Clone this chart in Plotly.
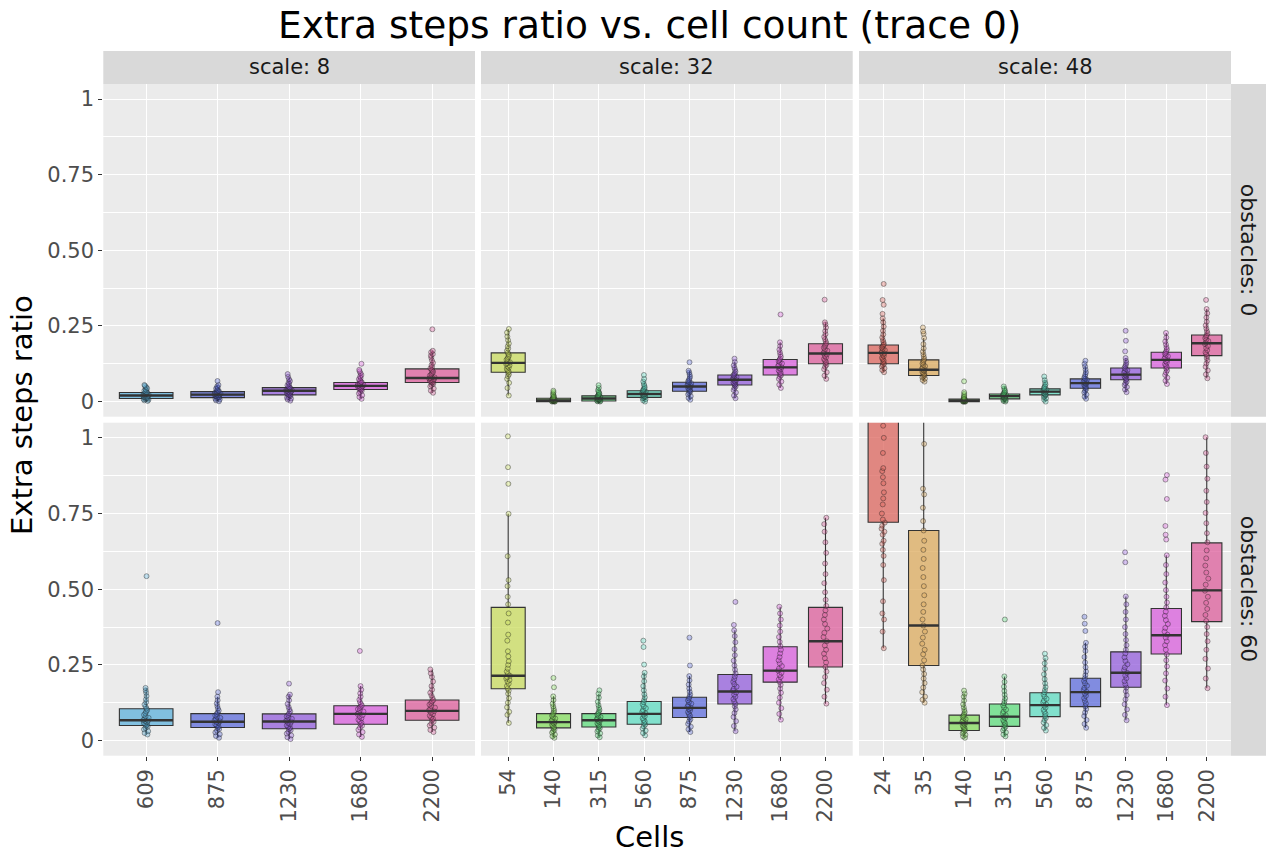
import plotly.graph_objects as go

# ---------------------------------------------------------------- data ----
title_text = "Extra steps ratio vs. cell count (trace 0)"
scale_levels = [8, 32, 48]
obstacle_levels = [0, 60]

cells_scale8 = [609, 875, 1230, 1680, 2200]
cells_scale32 = [54, 140, 315, 560, 875, 1230, 1680, 2200]
cells_scale48 = [24, 35, 140, 315, 560, 875, 1230, 1680, 2200]

y_tick_values = [0, 0.25, 0.5, 0.75, 1]
y_tick_labels = ["0", "0.25", "0.50", "0.75", "1"]

# fill colour for each cell-count level
cell_colors = {
    24: "#DB5F57", 35: "#DBA757", 54: "#C7DB57", 140: "#7FDB57",
    315: "#57DB77", 560: "#57DBBF", 609: "#57AFDB", 875: "#5767DB",
    1230: "#8F57DB", 1680: "#D757DB", 2200: "#DB5797",
}

# box statistics per cell count: [q1, median, q3, lower whisker, upper whisker]
stats_s8_o0 = {
    609: [0.010, 0.020, 0.030, 0.000, 0.055],
    875: [0.013, 0.023, 0.033, 0.001, 0.055],
    1230: [0.022, 0.036, 0.046, 0.003, 0.082],
    1680: [0.040, 0.052, 0.063, 0.009, 0.094],
    2200: [0.063, 0.078, 0.108, 0.029, 0.168],
}
stats_s32_o0 = {
    54: [0.097, 0.128, 0.161, 0.020, 0.240],
    140: [0.000, 0.004, 0.011, 0.000, 0.026],
    315: [0.002, 0.010, 0.019, 0.000, 0.045],
    560: [0.014, 0.025, 0.036, 0.000, 0.066],
    875: [0.034, 0.050, 0.064, 0.006, 0.102],
    1230: [0.055, 0.072, 0.088, 0.011, 0.131],
    1680: [0.088, 0.113, 0.139, 0.045, 0.196],
    2200: [0.125, 0.159, 0.191, 0.075, 0.262],
}
stats_s48_o0 = {
    24: [0.125, 0.161, 0.187, 0.097, 0.275],
    35: [0.086, 0.105, 0.138, 0.066, 0.210],
    140: [0.000, 0.003, 0.008, 0.000, 0.020],
    315: [0.009, 0.018, 0.025, 0.000, 0.050],
    560: [0.022, 0.033, 0.042, 0.000, 0.071],
    875: [0.044, 0.061, 0.075, 0.009, 0.116],
    1230: [0.072, 0.089, 0.111, 0.031, 0.144],
    1680: [0.111, 0.138, 0.163, 0.058, 0.227],
    2200: [0.152, 0.193, 0.220, 0.077, 0.306],
}
stats_s8_o60 = {
    609: [0.050, 0.067, 0.105, 0.020, 0.174],
    875: [0.043, 0.062, 0.089, 0.009, 0.145],
    1230: [0.039, 0.063, 0.088, 0.005, 0.152],
    1680: [0.054, 0.088, 0.115, 0.012, 0.180],
    2200: [0.067, 0.098, 0.134, 0.028, 0.235],
}
stats_s32_o60 = {
    54: [0.171, 0.214, 0.440, 0.058, 0.749],
    140: [0.042, 0.061, 0.089, 0.009, 0.146],
    315: [0.045, 0.067, 0.089, 0.011, 0.155],
    560: [0.054, 0.088, 0.129, 0.017, 0.224],
    875: [0.076, 0.108, 0.143, 0.028, 0.213],
    1230: [0.121, 0.162, 0.218, 0.031, 0.364],
    1680: [0.193, 0.231, 0.310, 0.069, 0.442],
    2200: [0.243, 0.328, 0.440, 0.122, 0.736],
}
stats_s48_o60 = {
    24: [0.721, 1.120, 1.350, 0.305, 1.600],
    35: [0.248, 0.380, 0.694, 0.125, 1.150],
    140: [0.033, 0.058, 0.084, 0.009, 0.155],
    315: [0.047, 0.079, 0.121, 0.014, 0.212],
    560: [0.079, 0.117, 0.158, 0.033, 0.272],
    875: [0.112, 0.160, 0.206, 0.042, 0.323],
    1230: [0.176, 0.224, 0.293, 0.067, 0.476],
    1680: [0.286, 0.348, 0.436, 0.117, 0.612],
    2200: [0.393, 0.496, 0.653, 0.173, 1.002],
}

# individual runs (extra steps ratio) per cell count
runs_s8_o0 = {
    609: [0.002, 0.004, 0.006, 0.008, 0.009, 0.010, 0.011, 0.012, 0.014, 0.015, 0.016, 0.018, 0.019, 0.020, 0.021,
          0.022, 0.024, 0.025, 0.027, 0.028, 0.030, 0.031, 0.033, 0.036, 0.038, 0.041, 0.044, 0.048, 0.052, 0.055],
    875: [0.001, 0.004, 0.007, 0.009, 0.011, 0.013, 0.014, 0.016, 0.018, 0.019, 0.021, 0.022, 0.023, 0.024, 0.026,
          0.027, 0.029, 0.030, 0.032, 0.033, 0.035, 0.037, 0.040, 0.043, 0.046, 0.050, 0.055, 0.068],
    1230: [0.003, 0.007, 0.010, 0.013, 0.016, 0.019, 0.021, 0.022, 0.024, 0.027, 0.029, 0.031, 0.033, 0.035, 0.036,
           0.037, 0.039, 0.040, 0.042, 0.044, 0.045, 0.047, 0.050, 0.054, 0.058, 0.063, 0.068, 0.074, 0.082, 0.091],
    1680: [0.009, 0.015, 0.021, 0.027, 0.032, 0.036, 0.039, 0.041, 0.043, 0.045, 0.047, 0.049, 0.051, 0.052, 0.053,
           0.055, 0.057, 0.058, 0.060, 0.062, 0.064, 0.066, 0.070, 0.074, 0.078, 0.083, 0.088, 0.094, 0.100, 0.105,
           0.125],
    2200: [0.029, 0.036, 0.043, 0.050, 0.055, 0.059, 0.062, 0.064, 0.066, 0.068, 0.070, 0.072, 0.074, 0.076, 0.078,
           0.080, 0.083, 0.086, 0.090, 0.094, 0.098, 0.102, 0.106, 0.110, 0.115, 0.121, 0.128, 0.136, 0.145, 0.152,
           0.157, 0.163, 0.168, 0.239],
}
runs_s32_o0 = {
    54: [0.020, 0.045, 0.062, 0.075, 0.084, 0.090, 0.095, 0.099, 0.103, 0.108, 0.112, 0.116, 0.120, 0.124, 0.127,
         0.130, 0.134, 0.138, 0.142, 0.147, 0.152, 0.157, 0.162, 0.168, 0.175, 0.183, 0.192, 0.203, 0.215, 0.228,
         0.240],
    140: [0.000, 0.000, 0.000, 0.001, 0.001, 0.002, 0.002, 0.003, 0.003, 0.004, 0.004, 0.005, 0.006, 0.007, 0.008,
          0.009, 0.010, 0.011, 0.012, 0.014, 0.016, 0.019, 0.022, 0.026, 0.031, 0.036],
    315: [0.000, 0.001, 0.002, 0.003, 0.004, 0.005, 0.006, 0.007, 0.008, 0.009, 0.010, 0.011, 0.012, 0.013, 0.015,
          0.016, 0.018, 0.019, 0.021, 0.023, 0.026, 0.029, 0.033, 0.038, 0.045, 0.054],
    560: [0.000, 0.004, 0.008, 0.011, 0.013, 0.015, 0.017, 0.019, 0.021, 0.023, 0.024, 0.025, 0.027, 0.029, 0.031,
          0.033, 0.035, 0.037, 0.040, 0.043, 0.047, 0.052, 0.058, 0.066, 0.075, 0.088],
    875: [0.006, 0.012, 0.018, 0.024, 0.029, 0.033, 0.036, 0.039, 0.042, 0.045, 0.048, 0.050, 0.052, 0.055, 0.058,
          0.061, 0.064, 0.067, 0.071, 0.076, 0.082, 0.089, 0.096, 0.102, 0.130],
    1230: [0.011, 0.020, 0.030, 0.038, 0.045, 0.050, 0.054, 0.057, 0.060, 0.063, 0.066, 0.069, 0.072, 0.075, 0.078,
           0.081, 0.084, 0.087, 0.090, 0.094, 0.099, 0.105, 0.112, 0.120, 0.131, 0.142],
    1680: [0.045, 0.056, 0.066, 0.075, 0.082, 0.087, 0.091, 0.095, 0.099, 0.103, 0.107, 0.111, 0.114, 0.118, 0.122,
           0.126, 0.130, 0.134, 0.138, 0.142, 0.148, 0.155, 0.163, 0.172, 0.184, 0.196, 0.288],
    2200: [0.075, 0.086, 0.097, 0.107, 0.115, 0.121, 0.126, 0.131, 0.136, 0.141, 0.146, 0.151, 0.156, 0.160, 0.164,
           0.168, 0.173, 0.178, 0.183, 0.188, 0.193, 0.199, 0.206, 0.214, 0.223, 0.233, 0.245, 0.255, 0.262, 0.337],
}
runs_s48_o0 = {
    24: [0.097, 0.104, 0.110, 0.116, 0.121, 0.125, 0.130, 0.135, 0.140, 0.145, 0.150, 0.155, 0.159, 0.162, 0.166,
         0.170, 0.174, 0.178, 0.182, 0.186, 0.190, 0.196, 0.203, 0.212, 0.222, 0.234, 0.248, 0.262, 0.275, 0.290,
         0.320, 0.336, 0.389],
    35: [0.066, 0.071, 0.076, 0.080, 0.083, 0.086, 0.089, 0.092, 0.095, 0.098, 0.101, 0.104, 0.106, 0.109, 0.113,
         0.117, 0.121, 0.126, 0.131, 0.136, 0.141, 0.148, 0.156, 0.165, 0.176, 0.190, 0.210, 0.224, 0.232, 0.245],
    140: [0.000, 0.000, 0.000, 0.000, 0.001, 0.001, 0.002, 0.002, 0.003, 0.003, 0.004, 0.005, 0.006, 0.007, 0.008,
          0.009, 0.011, 0.013, 0.016, 0.020, 0.025, 0.031, 0.067],
    315: [0.000, 0.002, 0.004, 0.006, 0.008, 0.009, 0.011, 0.013, 0.014, 0.016, 0.017, 0.018, 0.019, 0.020, 0.022,
          0.023, 0.024, 0.026, 0.028, 0.031, 0.034, 0.038, 0.043, 0.050],
    560: [0.000, 0.006, 0.011, 0.015, 0.018, 0.021, 0.023, 0.025, 0.027, 0.029, 0.031, 0.033, 0.034, 0.036, 0.038,
          0.040, 0.042, 0.045, 0.048, 0.052, 0.057, 0.063, 0.071, 0.083],
    875: [0.009, 0.016, 0.023, 0.030, 0.036, 0.041, 0.045, 0.049, 0.052, 0.055, 0.058, 0.061, 0.063, 0.066, 0.069,
          0.072, 0.075, 0.079, 0.084, 0.090, 0.097, 0.106, 0.116, 0.125, 0.135],
    1230: [0.031, 0.040, 0.048, 0.055, 0.061, 0.066, 0.071, 0.075, 0.079, 0.083, 0.086, 0.089, 0.092, 0.096, 0.100,
           0.104, 0.108, 0.112, 0.117, 0.122, 0.128, 0.135, 0.144, 0.166, 0.201, 0.234],
    1680: [0.058, 0.069, 0.079, 0.088, 0.096, 0.103, 0.109, 0.114, 0.119, 0.124, 0.129, 0.134, 0.138, 0.142, 0.146,
           0.150, 0.154, 0.158, 0.162, 0.167, 0.173, 0.180, 0.189, 0.199, 0.212, 0.227],
    2200: [0.077, 0.090, 0.103, 0.115, 0.126, 0.136, 0.144, 0.151, 0.157, 0.163, 0.170, 0.177, 0.184, 0.190, 0.195,
           0.200, 0.205, 0.210, 0.215, 0.220, 0.226, 0.233, 0.242, 0.252, 0.264, 0.278, 0.292, 0.306, 0.336],
}
runs_s8_o60 = {
    609: [0.020, 0.025, 0.031, 0.037, 0.042, 0.046, 0.049, 0.052, 0.055, 0.058, 0.061, 0.064, 0.066, 0.068, 0.071,
          0.075, 0.080, 0.085, 0.090, 0.096, 0.101, 0.106, 0.112, 0.119, 0.127, 0.136, 0.147, 0.158, 0.166, 0.174,
          0.543],
    875: [0.009, 0.015, 0.021, 0.027, 0.033, 0.038, 0.042, 0.046, 0.050, 0.054, 0.058, 0.061, 0.064, 0.067, 0.071,
          0.075, 0.079, 0.083, 0.088, 0.093, 0.099, 0.106, 0.114, 0.123, 0.133, 0.145, 0.160, 0.388],
    1230: [0.005, 0.011, 0.017, 0.023, 0.029, 0.034, 0.038, 0.042, 0.046, 0.050, 0.054, 0.058, 0.062, 0.065, 0.068,
           0.072, 0.076, 0.080, 0.085, 0.090, 0.096, 0.103, 0.111, 0.121, 0.133, 0.145, 0.152, 0.188],
    1680: [0.012, 0.020, 0.028, 0.036, 0.043, 0.049, 0.054, 0.059, 0.064, 0.069, 0.074, 0.079, 0.084, 0.088, 0.092,
           0.096, 0.100, 0.104, 0.108, 0.112, 0.116, 0.121, 0.127, 0.135, 0.145, 0.156, 0.168, 0.180, 0.296],
    2200: [0.028, 0.035, 0.043, 0.050, 0.056, 0.062, 0.067, 0.072, 0.077, 0.082, 0.087, 0.092, 0.097, 0.100, 0.104,
           0.109, 0.114, 0.119, 0.124, 0.129, 0.134, 0.141, 0.149, 0.158, 0.168, 0.180, 0.195, 0.210, 0.222, 0.235],
}
runs_s32_o60 = {
    54: [0.058, 0.085, 0.095, 0.110, 0.125, 0.140, 0.155, 0.165, 0.172, 0.180, 0.188, 0.195, 0.200, 0.205, 0.210,
         0.214, 0.220, 0.228, 0.238, 0.250, 0.262, 0.278, 0.295, 0.330, 0.350, 0.390, 0.420, 0.450, 0.475, 0.510,
         0.530, 0.609, 0.749, 0.848, 0.903, 1.005],
    140: [0.009, 0.014, 0.020, 0.026, 0.031, 0.036, 0.040, 0.044, 0.048, 0.052, 0.056, 0.059, 0.062, 0.065, 0.069,
          0.073, 0.077, 0.082, 0.087, 0.092, 0.098, 0.105, 0.113, 0.122, 0.134, 0.146, 0.176, 0.207],
    315: [0.011, 0.017, 0.024, 0.030, 0.036, 0.041, 0.045, 0.049, 0.053, 0.057, 0.061, 0.065, 0.068, 0.071, 0.074,
          0.078, 0.082, 0.086, 0.090, 0.095, 0.101, 0.108, 0.117, 0.128, 0.142, 0.155, 0.166],
    560: [0.017, 0.025, 0.033, 0.040, 0.047, 0.053, 0.058, 0.063, 0.068, 0.074, 0.080, 0.086, 0.090, 0.095, 0.101,
          0.107, 0.113, 0.120, 0.127, 0.134, 0.143, 0.153, 0.166, 0.180, 0.196, 0.212, 0.224, 0.251, 0.309, 0.330],
    875: [0.028, 0.037, 0.046, 0.055, 0.063, 0.070, 0.076, 0.082, 0.088, 0.094, 0.099, 0.104, 0.108, 0.112, 0.117,
          0.122, 0.127, 0.133, 0.139, 0.145, 0.152, 0.161, 0.172, 0.185, 0.199, 0.213, 0.248, 0.340],
    1230: [0.031, 0.048, 0.064, 0.078, 0.091, 0.103, 0.113, 0.121, 0.129, 0.137, 0.145, 0.152, 0.159, 0.165, 0.171,
           0.178, 0.186, 0.194, 0.203, 0.212, 0.222, 0.234, 0.248, 0.264, 0.282, 0.302, 0.325, 0.345, 0.364, 0.382,
           0.458],
    1680: [0.069, 0.088, 0.107, 0.125, 0.142, 0.158, 0.172, 0.184, 0.194, 0.202, 0.210, 0.217, 0.224, 0.231, 0.238,
           0.246, 0.255, 0.265, 0.276, 0.288, 0.300, 0.312, 0.326, 0.342, 0.360, 0.380, 0.400, 0.420, 0.442],
    2200: [0.122, 0.145, 0.168, 0.190, 0.210, 0.228, 0.243, 0.258, 0.272, 0.287, 0.300, 0.314, 0.328, 0.342, 0.356,
           0.370, 0.385, 0.400, 0.415, 0.430, 0.445, 0.465, 0.490, 0.520, 0.550, 0.585, 0.620, 0.655, 0.690, 0.715,
           0.736],
}
runs_s48_o60 = {
    24: [0.305, 0.360, 0.400, 0.420, 0.460, 0.530, 0.580, 0.610, 0.630, 0.650, 0.660, 0.680, 0.690, 0.700, 0.710,
         0.720, 0.730, 0.750, 0.780, 0.800, 0.820, 0.850, 0.870, 0.890, 0.900, 0.950, 1.000, 1.040, 1.080, 1.120,
         1.150, 1.200, 1.250, 1.300, 1.350, 1.420, 1.500, 1.600],
    35: [0.125, 0.135, 0.145, 0.160, 0.175, 0.190, 0.205, 0.220, 0.235, 0.248, 0.265, 0.285, 0.300, 0.320, 0.340,
         0.360, 0.380, 0.400, 0.425, 0.450, 0.480, 0.510, 0.540, 0.570, 0.600, 0.630, 0.660, 0.694, 0.725, 0.769,
         0.813, 0.832, 0.980, 1.150],
    140: [0.009, 0.014, 0.019, 0.024, 0.029, 0.033, 0.037, 0.041, 0.045, 0.049, 0.053, 0.057, 0.060, 0.063, 0.067,
          0.071, 0.075, 0.079, 0.083, 0.088, 0.094, 0.101, 0.110, 0.120, 0.132, 0.145, 0.155, 0.165],
    315: [0.014, 0.020, 0.027, 0.034, 0.040, 0.046, 0.051, 0.057, 0.062, 0.068, 0.074, 0.079, 0.084, 0.090, 0.096,
          0.102, 0.109, 0.116, 0.123, 0.131, 0.140, 0.151, 0.164, 0.178, 0.194, 0.212, 0.400],
    560: [0.033, 0.042, 0.051, 0.060, 0.068, 0.075, 0.081, 0.088, 0.095, 0.102, 0.109, 0.115, 0.120, 0.126, 0.132,
          0.138, 0.145, 0.152, 0.159, 0.167, 0.177, 0.189, 0.203, 0.219, 0.237, 0.255, 0.272, 0.287],
    875: [0.042, 0.055, 0.068, 0.081, 0.093, 0.104, 0.113, 0.122, 0.131, 0.140, 0.148, 0.155, 0.161, 0.167, 0.174,
          0.181, 0.189, 0.197, 0.206, 0.216, 0.228, 0.242, 0.258, 0.276, 0.296, 0.310, 0.323, 0.362, 0.386, 0.409],
    1230: [0.067, 0.085, 0.103, 0.120, 0.136, 0.150, 0.163, 0.175, 0.186, 0.196, 0.206, 0.215, 0.224, 0.233, 0.242,
           0.252, 0.263, 0.275, 0.288, 0.300, 0.315, 0.332, 0.352, 0.375, 0.400, 0.425, 0.450, 0.476, 0.589, 0.622],
    1680: [0.117, 0.145, 0.172, 0.198, 0.222, 0.245, 0.265, 0.284, 0.300, 0.315, 0.328, 0.340, 0.350, 0.360, 0.372,
           0.385, 0.398, 0.412, 0.426, 0.440, 0.456, 0.475, 0.497, 0.522, 0.550, 0.580, 0.612, 0.664, 0.680, 0.709,
           0.798, 0.862, 0.877],
    2200: [0.173, 0.205, 0.238, 0.270, 0.300, 0.328, 0.352, 0.375, 0.395, 0.415, 0.435, 0.455, 0.475, 0.495, 0.515,
           0.535, 0.555, 0.578, 0.602, 0.628, 0.655, 0.685, 0.718, 0.752, 0.788, 0.825, 0.865, 0.905, 0.950, 1.002],
}

# facet grid: rows = obstacles, columns = scale
panel_cells = [cells_scale8, cells_scale32, cells_scale48]
panel_stats = [[stats_s8_o0, stats_s32_o0, stats_s48_o0],
               [stats_s8_o60, stats_s32_o60, stats_s48_o60]]
panel_runs = [[runs_s8_o0, runs_s32_o0, runs_s48_o0],
              [runs_s8_o60, runs_s32_o60, runs_s48_o60]]

# --------------------------------------------------------------- layout ---
W, H = 1266, 857
col_px = [(103.3, 475.0), (481.0, 852.7), (859.0, 1231.0)]
row_px = [(84.0, 416.7), (422.7, 755.7)]
strip_top_px = (51.0, 84.0)
strip_right_px = (1231.0, 1266.0)

FONT = "DejaVu Sans"
TICK_FONT = dict(family=FONT, size=21, color="#4D4D4D")
STRIP_FONT = dict(family=FONT, size=21, color="#1A1A1A")
ROW_STRIP_FONT = dict(family=FONT, size=22, color="#1A1A1A")
BOX_WIDTH = 0.75
OUTLINE = "#333333"


def rgba(hex_color, alpha):
    h = hex_color.lstrip("#")
    r, g, b = int(h[0:2], 16), int(h[2:4], 16), int(h[4:6], 16)
    return f"rgba({r},{g},{b},{alpha})"


def px_x(v):
    return v / W


def px_y(v):
    return 1 - v / H


fig = go.Figure()
layout_axes = {}

for r in range(2):
    for c in range(3):
        k = r * 3 + c + 1
        xa = "x" if k == 1 else f"x{k}"
        ya = "y" if k == 1 else f"y{k}"
        cells = panel_cells[c]
        stats = panel_stats[r][c]
        runs = panel_runs[r][c]

        for cell in cells:
            color = cell_colors[cell]
            q1, med, q3, lo, hi = stats[cell]
            label = str(cell)
            # box body and whiskers
            fig.add_trace(go.Box(
                x=[label], q1=[q1], median=[med], q3=[q3],
                lowerfence=[lo], upperfence=[hi],
                xaxis=xa, yaxis=ya, width=BOX_WIDTH, whiskerwidth=0,
                fillcolor=rgba(color, 0.72), line=dict(color=OUTLINE, width=1.1),
                boxpoints=False, showlegend=False, hoverinfo="skip",
            ))
            # jittered individual runs
            pts = runs[cell]
            fig.add_trace(go.Box(
                x=[label] * len(pts), y=pts,
                xaxis=xa, yaxis=ya, width=BOX_WIDTH, whiskerwidth=0,
                boxpoints="all", jitter=0.12, pointpos=0,
                fillcolor="rgba(0,0,0,0)", line=dict(color="rgba(0,0,0,0)", width=0),
                marker=dict(size=5, color=rgba(color, 0.35),
                            line=dict(color="rgba(30,30,30,0.5)", width=0.8)),
                showlegend=False, hoverinfo="skip",
            ))
            # bold median bar
            fig.add_trace(go.Box(
                x=[label], q1=[med], median=[med], q3=[med],
                lowerfence=[med], upperfence=[med],
                xaxis=xa, yaxis=ya, width=BOX_WIDTH, whiskerwidth=0,
                fillcolor="rgba(0,0,0,0)", line=dict(color=OUTLINE, width=2.4),
                boxpoints=False, showlegend=False, hoverinfo="skip",
            ))

        bottom = r == 1
        left = c == 0
        layout_axes["xaxis" if k == 1 else f"xaxis{k}"] = dict(
            domain=[px_x(col_px[c][0]), px_x(col_px[c][1])],
            anchor=ya, type="category",
            categoryorder="array", categoryarray=[str(v) for v in cells],
            range=[-0.6, len(cells) - 0.4],
            showgrid=True, gridcolor="white", gridwidth=1.4,
            zeroline=False, showline=False,
            showticklabels=bottom, ticks="outside" if bottom else "",
            ticklen=4, tickwidth=1, tickcolor=OUTLINE,
            tickangle=-90, tickfont=TICK_FONT,
        )
        layout_axes["yaxis" if k == 1 else f"yaxis{k}"] = dict(
            domain=[px_y(row_px[r][1]), px_y(row_px[r][0])],
            anchor=xa, range=[-0.05, 1.05],
            tickmode="array", tickvals=y_tick_values, ticktext=y_tick_labels,
            showgrid=True, gridcolor="white", gridwidth=1.4,
            minor=dict(tickmode="array", tickvals=[0.125, 0.375, 0.625, 0.875],
                       showgrid=True, gridcolor="white", gridwidth=0.7, ticks=""),
            zeroline=False, showline=False,
            showticklabels=left, ticks="outside" if left else "",
            ticklen=4, tickwidth=1, tickcolor=OUTLINE, tickfont=TICK_FONT,
        )

shapes = []
annotations = []

# column strips
for c, scale in enumerate(scale_levels):
    x0, x1 = px_x(col_px[c][0]), px_x(col_px[c][1])
    y0, y1 = px_y(strip_top_px[1]), px_y(strip_top_px[0])
    shapes.append(dict(type="rect", xref="paper", yref="paper", x0=x0, x1=x1, y0=y0, y1=y1,
                       fillcolor="#D9D9D9", line=dict(width=0), layer="below"))
    annotations.append(dict(text=f"scale: {scale}", xref="paper", yref="paper",
                            x=(x0 + x1) / 2, y=(y0 + y1) / 2, xanchor="center", yanchor="middle",
                            showarrow=False, font=STRIP_FONT))

# row strips
for r, obs in enumerate(obstacle_levels):
    x0, x1 = px_x(strip_right_px[0]), px_x(strip_right_px[1])
    y0, y1 = px_y(row_px[r][1]), px_y(row_px[r][0])
    shapes.append(dict(type="rect", xref="paper", yref="paper", x0=x0, x1=x1, y0=y0, y1=y1,
                       fillcolor="#D9D9D9", line=dict(width=0), layer="below"))
    annotations.append(dict(text=f"obstacles: {obs}", xref="paper", yref="paper",
                            x=(x0 + x1) / 2, y=(y0 + y1) / 2, xanchor="center", yanchor="middle",
                            textangle=90, showarrow=False, font=ROW_STRIP_FONT))

# titles
annotations.append(dict(text=title_text, xref="paper", yref="paper",
                        x=px_x(649), y=px_y(25), xanchor="center", yanchor="middle",
                        showarrow=False, font=dict(family=FONT, size=37.5, color="black")))
annotations.append(dict(text="Cells", xref="paper", yref="paper",
                        x=px_x(649), y=px_y(837), xanchor="center", yanchor="middle",
                        showarrow=False, font=dict(family=FONT, size=29, color="black")))
annotations.append(dict(text="Extra steps ratio", xref="paper", yref="paper",
                        x=px_x(22), y=px_y(415), xanchor="center", yanchor="middle",
                        textangle=-90, showarrow=False, font=dict(family=FONT, size=29, color="black")))

fig.update_layout(
    width=W, height=H, margin=dict(l=0, r=0, t=0, b=0),
    paper_bgcolor="white", plot_bgcolor="#EBEBEB",
    boxmode="overlay", showlegend=False,
    shapes=shapes, annotations=annotations,
    **layout_axes,
)

fig.write_html("out.html")
